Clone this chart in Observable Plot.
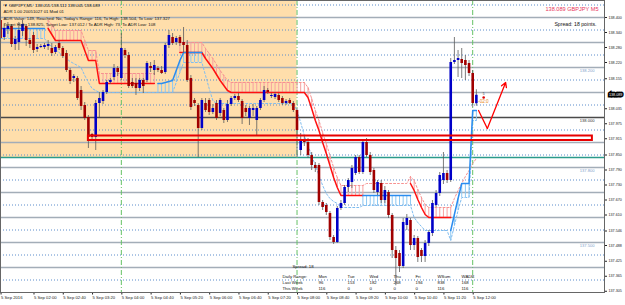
<!DOCTYPE html>
<html><head><meta charset="utf-8">
<script src="https://cdn.jsdelivr.net/npm/d3@7"></script>
<script src="https://cdn.jsdelivr.net/npm/@observablehq/plot@0.6"></script>
<style>html,body{margin:0;padding:0;background:#fff;}</style>
</head><body><div id="chart"></div>
<script>
// bar index = number of 5-minute steps after 02:00 (first visible bar 01:15)
const firstBar = -9;
const open = [138.388,138.320,138.352,138.364,138.292,138.300,138.344,138.364,138.308,
138.328,138.272,138.280,138.280,138.284,138.276,138.260,138.296,138.276,138.256,
138.188,138.156,138.156,138.108,138.048,138.000,137.932,137.920,138.056,138.064,
138.100,138.140,138.160,138.196,138.156,138.268,138.248,138.140,138.136,138.116,
138.148,138.148,138.204,138.188,138.196,138.188,138.180,138.288,138.320,138.300,
138.320,138.300,138.288,138.156,138.068,138.048,137.956,138.056,138.068,138.020,
138.056,138.016,138.028,137.988,138.052,138.076,138.084,138.064,138.036,137.996,
138.028,137.988,138.036,138.068,138.108,138.084,138.080,138.088,138.076,138.056,
138.068,138.056,138.028,137.868,137.908,137.900,137.848,137.808,137.808,137.660,
137.648,137.616,137.520,137.500,137.636,137.656,137.720,137.740,137.776,137.840,
137.780,137.900,137.848,137.788,137.700,137.736,137.668,137.700,137.608,137.468,
137.456,137.404,137.568,137.588,137.488,137.516,137.468,137.444,137.496,137.536,
137.648,137.696,137.748,137.776,137.748,138.220,138.228,138.232,138.228,138.216,
138.176,138.055];
const high = [138.396,138.372,138.380,138.372,138.324,138.380,138.388,138.372,138.316,
138.340,138.292,138.292,138.296,138.308,138.296,138.288,138.308,138.284,138.268,
138.196,138.172,138.164,138.124,138.060,138.008,137.936,138.068,138.100,138.108,
138.148,138.156,138.212,138.204,138.336,138.276,138.260,138.156,138.156,138.156,
138.156,138.224,138.220,138.228,138.204,138.204,138.296,138.348,138.336,138.324,
138.328,138.360,138.308,138.168,138.076,138.056,138.076,138.076,138.076,138.052,
138.068,138.076,138.036,138.068,138.084,138.092,138.096,138.072,138.048,138.044,
138.052,138.044,138.076,138.124,138.116,138.096,138.100,138.096,138.084,138.072,
138.076,138.064,138.036,137.936,137.924,137.916,137.860,137.820,137.816,137.668,
137.656,137.624,137.528,137.644,137.668,137.728,137.756,137.808,137.848,137.848,
137.908,137.916,137.860,137.796,137.748,137.748,137.724,137.708,137.616,137.484,
137.468,137.596,137.612,137.596,137.528,137.524,137.476,137.508,137.548,137.668,
137.708,137.780,137.860,137.788,138.236,138.320,138.268,138.276,138.248,138.228,
138.188,138.111];
const low = [138.300,138.308,138.332,138.280,138.268,138.268,138.324,138.284,138.276,
138.256,138.260,138.276,138.272,138.268,138.244,138.252,138.268,138.236,138.180,
138.132,138.140,138.068,138.028,137.988,137.876,137.908,137.868,138.000,138.052,
138.092,138.132,138.148,138.164,138.148,138.236,138.116,138.116,138.088,138.104,
138.096,138.140,138.180,138.168,138.180,138.172,138.172,138.276,138.288,138.288,
138.284,138.256,138.140,138.028,138.044,137.840,137.948,138.020,138.008,138.012,
137.988,138.004,137.976,137.980,138.044,138.068,138.060,137.972,138.004,137.968,
138.004,137.928,138.028,138.060,138.092,138.076,138.072,138.060,138.048,138.048,
138.052,138.020,137.840,137.848,137.884,137.836,137.788,137.780,137.648,137.628,
137.608,137.508,137.492,137.496,137.628,137.648,137.700,137.716,137.768,137.772,
137.772,137.840,137.768,137.696,137.688,137.656,137.656,137.596,137.436,137.327,
137.380,137.396,137.548,137.468,137.468,137.420,137.420,137.420,137.484,137.524,
137.640,137.684,137.732,137.736,137.740,138.212,138.160,138.156,138.148,138.164,
138.040,138.045];
const close = [138.316,138.356,138.364,138.292,138.312,138.348,138.372,138.308,138.292,
138.268,138.280,138.284,138.288,138.292,138.256,138.280,138.276,138.244,138.188,
138.144,138.164,138.076,138.044,137.996,137.920,137.920,138.056,138.076,138.100,
138.140,138.148,138.196,138.180,138.276,138.248,138.124,138.124,138.116,138.148,
138.124,138.216,138.196,138.208,138.188,138.176,138.288,138.328,138.296,138.316,
138.296,138.288,138.148,138.040,138.056,137.956,138.068,138.028,138.020,138.036,
137.996,138.068,137.988,138.052,138.076,138.084,138.068,137.996,138.020,138.036,
138.036,138.036,138.068,138.108,138.100,138.088,138.092,138.068,138.056,138.064,
138.056,138.028,137.948,137.908,137.900,137.848,137.808,137.796,137.660,137.640,
137.620,137.520,137.500,137.636,137.656,137.720,137.748,137.796,137.840,137.780,
137.900,137.848,137.780,137.708,137.740,137.668,137.708,137.608,137.468,137.436,
137.404,137.580,137.596,137.488,137.516,137.440,137.444,137.496,137.540,137.656,
137.696,137.768,137.776,137.748,138.220,138.228,138.236,138.216,138.208,138.176,
138.056,138.089];

// channel indicator (per bar)
const redLine = [null,null,null,null,null,null,null,null,null,
null,null,null,null,138.356,138.332,138.308,138.308,138.308,138.308,
138.308,138.308,138.308,138.308,138.268,138.228,138.228,138.228,138.136,138.136,
138.136,138.136,138.136,138.136,138.136,138.136,138.136,138.136,138.136,138.136,
138.136,138.136,138.136,138.136,null,null,null,null,null,null,
138.260,138.260,138.260,138.260,138.260,138.260,138.260,138.236,138.216,138.196,
138.172,138.148,138.128,138.108,138.100,138.100,138.100,138.100,138.100,138.100,
138.100,138.100,138.100,138.100,138.100,138.100,138.100,138.100,138.100,138.100,
138.100,138.100,138.100,138.100,138.100,138.080,138.036,137.988,137.948,137.900,
137.856,137.808,137.760,137.720,137.688,137.688,137.688,137.688,137.688,137.688,
137.688,null,null,null,null,null,null,null,null,null,
null,null,null,137.736,137.708,137.672,137.640,137.612,137.600,137.600,
137.600,137.600,137.600,137.600,137.600,null,null,null,null,null,
null,null];
const redFaint = [null,null,null,null,null,null,null,null,null,
null,null,null,null,138.388,138.372,138.348,138.348,138.348,138.348,
138.348,138.348,138.348,138.348,138.308,138.268,138.268,138.268,138.176,138.176,
138.176,138.176,138.176,138.176,138.176,138.176,138.176,138.176,138.176,138.176,
138.176,138.176,138.176,138.176,null,null,null,null,null,null,
138.300,138.300,138.300,138.300,138.300,138.300,138.300,138.276,138.256,138.236,
138.212,138.188,138.168,138.148,138.140,138.140,138.140,138.140,138.140,138.140,
138.140,138.140,138.140,138.140,138.140,138.140,138.140,138.140,138.140,138.140,
138.140,138.140,138.140,138.140,138.140,138.120,138.076,138.028,137.988,137.940,
137.896,137.848,137.800,137.760,137.728,137.728,137.728,137.728,137.728,137.728,
137.728,137.736,137.736,137.736,137.736,137.736,137.736,137.736,137.736,137.736,
137.736,137.736,137.736,137.764,137.748,137.712,137.680,137.652,137.640,137.640,
137.640,137.640,137.640,137.640,137.640,137.676,137.708,137.736,137.764,137.788,
137.816,137.836];
const blueLine = [138.356,138.356,138.356,138.356,138.356,138.356,138.356,138.356,138.356,
138.356,138.356,138.356,138.356,null,null,null,null,null,null,
null,null,null,null,null,null,null,null,null,null,
null,null,null,null,null,null,null,null,null,null,
null,null,null,null,138.136,138.136,138.140,138.144,138.148,138.188,
138.228,138.260,138.260,138.260,138.260,138.260,138.260,null,null,null,
null,null,null,null,null,null,null,null,null,null,
null,null,null,null,null,null,null,null,null,null,
null,null,null,null,null,null,null,null,null,null,
null,null,null,null,null,null,null,null,null,null,
137.688,137.688,137.688,137.688,137.688,137.688,137.688,137.688,137.688,137.688,
137.688,137.688,137.688,137.688,null,null,null,null,null,null,
null,null,null,null,137.548,137.612,137.676,137.736,137.736,137.736,
138.028,138.028];
const blueFaint = [138.316,138.316,138.316,138.316,138.316,138.316,138.316,138.316,138.316,
138.316,138.316,138.316,138.316,138.296,138.284,138.272,138.260,138.248,138.236,
138.224,138.216,138.208,138.200,138.168,138.140,138.116,138.108,138.100,138.100,
138.100,138.100,138.100,138.100,138.100,138.100,138.100,138.100,138.100,138.100,
138.100,138.100,138.100,138.100,138.100,138.100,138.100,138.100,138.100,138.140,
138.180,138.220,138.220,138.220,138.220,138.220,138.220,138.168,138.116,138.068,
138.056,138.056,138.056,138.056,138.056,138.056,138.056,138.056,138.056,138.056,
138.056,138.056,138.056,138.056,138.056,138.056,138.056,138.056,138.056,138.056,
138.056,138.056,138.028,137.980,137.928,137.888,137.848,137.808,137.768,137.728,
137.696,137.676,137.664,137.656,137.640,137.640,137.640,137.640,137.640,137.640,
137.648,137.648,137.648,137.648,137.648,137.648,137.648,137.648,137.648,137.648,
137.648,137.648,137.648,137.648,137.600,137.580,137.564,137.548,137.548,137.548,
137.548,137.548,137.548,137.548,137.508,137.568,137.628,137.680,137.680,137.680,
137.988,137.988];

// horizontal levels
const gridSolid = [138.4,138.3,138.2,138.1,137.9,137.8,137.7,137.6,137.5,137.4];
const gridDotted = [138.45,138.35,138.25,138.15,138.05,137.95,137.85,137.75,137.65,137.55,137.45,137.35];
const keyLevel = 138.000;
const tealLevel = 137.840;
const levelLabels = [138.200, 138.000, 137.800, 137.500];
// session box (orange) and red zone
const sessionBox = {start: -10, end: 72, low: 137.840, high: 138.480};
const zone = {start: 15.0, end: 152.7, low: 137.908, high: 137.926};
const sessionLines = [24, 72, 120];
// right price axis labels
const priceTicks = [138.400,138.340,138.280,138.220,138.155,138.035,137.975,137.915,137.850,137.790,137.730,137.670,137.610,137.546,137.488,137.425,137.365,137.305];
// time axis
const timeTickIdx = [-9,0,8,16,24,32,40,48,56,64,72,80,88,96,104,112,120];
const timeTickLabels = ["5 Sep 2016","5 Sep 02:00","5 Sep 02:40","5 Sep 03:20","5 Sep 04:00","5 Sep 04:40","5 Sep 05:20","5 Sep 06:00","5 Sep 06:40","5 Sep 07:20","5 Sep 08:00","5 Sep 08:40","5 Sep 09:20","5 Sep 10:00","5 Sep 10:40","5 Sep 11:20","5 Sep 12:00"];
// drawn arrow
const arrowIdx = [121.6, 124.0, 129.0];
const arrowPrice = [138.028, 137.956, 138.140];
const markerIdx = 123.0, markerPrice = 138.080;
const timerIdx = 121.5, timerPrice = 138.064, timerText = "-02:0";
// texts
const infoLines = ["\u25BC GBPJPY,M5  138.055 138.111 138.045 138.089",
 "ADR 1.00 20051027 01 Mod 01",
 "ADR Value: 149, Reached: No, Today's Range: 116, To High: 138.504, To Low: 137.327",
 "Target High: 138.825, Target Low: 137.012 / To ADR High: 73, To ADR Low: 108"];
const titleText = "138.089 GBPJPY M5";
const spreadTop = "Spread: 18 points.";
const spreadTable = "Spread: 18";
const rowHeads = ["Daily Range:", "Last Week", "This Week"];
const dayCols = ["Mon","Tue","Wed","Thu","Fri","WSum","WADR"];
const lastWeek = [96,153,182,268,194,838,168];
const thisWeek = [116,0,0,0,0,116,116];

const bars = open.map((o, k) => ({i: firstBar + k, o, h: high[k], l: low[k], c: close[k]}));
const ind = redLine.map((r, k) => ({i: firstBar + k, r, rf: redFaint[k], b: blueLine[k], bf: blueFaint[k]}));
const timeLabel = new Map(timeTickIdx.map((d, k) => [d, timeTickLabels[k]]));
const lastClose = close[close.length - 1];
const colX = [318, 347, 369, 393, 415, 437, 461];
const F = "Liberation Sans";

const chart = Plot.plot({
  width: 625, height: 305,
  marginLeft: 0, marginRight: 21, marginTop: 0, marginBottom: 13,
  x: {type: "linear", domain: [-9.016, 156.01]},
  y: {type: "linear", domain: [137.300, 138.468]},
  style: {fontFamily: F, background: "#fff", overflow: "visible"},
  marks: [
    Plot.rect([sessionBox], {x1: "start", x2: "end", y1: "low", y2: "high", fill: "#ffdeab", clip: true}),
    Plot.ruleY(gridDotted, {stroke: "#5b8ccc", strokeDasharray: "1,2", strokeWidth: 1}),
    Plot.ruleY(gridSolid, {stroke: "#a3adb8", strokeWidth: 1.5}),
    Plot.ruleY([keyLevel], {stroke: "#4a4a4a", strokeWidth: 1.3}),
    Plot.ruleY([tealLevel], {stroke: "#2a9a8a", strokeWidth: 1.3}),
    Plot.ruleX(sessionLines, {stroke: "#66c266", strokeDasharray: "5,2,1,2", strokeWidth: 1}),
    // hatches
    Plot.ruleX(ind, {filter: d => d.r != null, x: "i", y1: "r", y2: "rf", stroke: "#f7a0a0", strokeWidth: 1}),
    Plot.ruleX(ind, {filter: d => d.b != null, x: "i", y1: "b", y2: "bf", stroke: "#8cc8f2", strokeWidth: 1}),
    Plot.line(ind, {x: "i", y: "rf", stroke: "#f79090", strokeDasharray: "2,2", strokeWidth: 1}),
    Plot.line(ind, {x: "i", y: "bf", stroke: "#7fbdf0", strokeDasharray: "2,2", strokeWidth: 1}),
    Plot.line(ind, {x: "i", y: "r", stroke: "#ff1010", strokeWidth: 1.5}),
    Plot.line(ind, {x: "i", y: "b", stroke: "#2a8cf0", strokeWidth: 1.5}),
    // candles
    Plot.ruleX(bars, {x: "i", y1: "l", y2: "h", stroke: "#5a5a5a", strokeWidth: 0.8}),
    Plot.ruleX(bars, {x: "i", y1: "o", y2: "c", stroke: d => d.c >= d.o ? "#0000c8" : "#a00000", strokeWidth: 2.6}),
    // red zone
    Plot.rect([zone], {x1: "start", x2: "end", y1: "low", y2: "high", fill: "none", stroke: "#e80000", strokeWidth: 2}),
    // drawn arrow
    Plot.line(arrowIdx.slice(0, 2).map((x, k) => ({x, p: arrowPrice[k]})), {x: "x", y: "p", stroke: "#ff0000", strokeWidth: 1.3}),
    Plot.arrow([{x1: arrowIdx[1], y1: arrowPrice[1], x2: arrowIdx[2], y2: arrowPrice[2]}], {x1: "x1", y1: "y1", x2: "x2", y2: "y2", stroke: "#ff0000", strokeWidth: 1.3, headLength: 6}),
    Plot.dot([{x: markerIdx, p: markerPrice}], {x: "x", y: "p", r: 1.3, fill: "#e00000"}),
    Plot.text([{x: markerIdx, p: markerPrice}], {x: "x", y: "p", text: () => "5", dy: -4, fontSize: 3.2, fill: "#333"}),
    Plot.text([{x: timerIdx, p: timerPrice}], {x: "x", y: "p", text: () => timerText, textAnchor: "start", fontSize: 4.6, fill: "#e8861a"}),
    // level labels
    Plot.text(levelLabels, {y: d => d, frameAnchor: "right", dx: -10, dy: 3.6, textAnchor: "end", text: d => d.toFixed(3), fontSize: 4.1, fill: d => d === keyLevel ? "#333333" : "#7fa3cc"}),
    // axes
    Plot.axisX(timeTickIdx, {anchor: "bottom", tickSize: 2.5, tickPadding: 1, tickFormat: d => timeLabel.get(d), textAnchor: "start", dx: 0.5, fontSize: 4.2, color: "#222"}),
    Plot.axisY(priceTicks, {anchor: "right", tickSize: 2, tickPadding: 2, tickFormat: d => d.toFixed(3), fontSize: 3.7, color: "#222"}),
    Plot.text([lastClose], {y: d => d, frameAnchor: "right", dx: 4.5, textAnchor: "start", text: d => d.toFixed(3), fill: "#fff", stroke: "#000", strokeWidth: 3, strokeLinejoin: "miter", paintOrder: "stroke", fontSize: 3.7}),
    // texts
    Plot.text([infoLines.join("\n")], {frameAnchor: "top-left", dx: 3, dy: 2.5, lineHeight: 1.42, fontSize: 4.3, fill: "#111", text: d => d}),
    Plot.text([titleText], {frameAnchor: "top-right", dx: -6, dy: 7, fontSize: 5.6, fill: "#e8365d", text: d => d}),
    Plot.text([spreadTop], {frameAnchor: "top-right", dx: -8, dy: 21.8, fontSize: 5.2, fill: "#111", text: d => d}),
    Plot.text([spreadTable], {frameAnchor: "top-left", dx: 292, dy: 264.8, fontSize: 4.3, fill: "#111", text: d => d}),
    Plot.text([rowHeads.join("\n")], {frameAnchor: "top-left", dx: 282, dy: 273.5, lineHeight: 1.38, fontSize: 4.3, fill: "#111", text: d => d}),
    ...dayCols.map((d, j) => Plot.text([[d, lastWeek[j], thisWeek[j]].join("\n")], {frameAnchor: "top-left", dx: colX[j], dy: 273.5, lineHeight: 1.38, fontSize: 4.3, fill: "#111", text: t => t})),
    Plot.frame({stroke: "#666"})
  ]
});
document.getElementById("chart").append(chart);
</script>
</body></html>
